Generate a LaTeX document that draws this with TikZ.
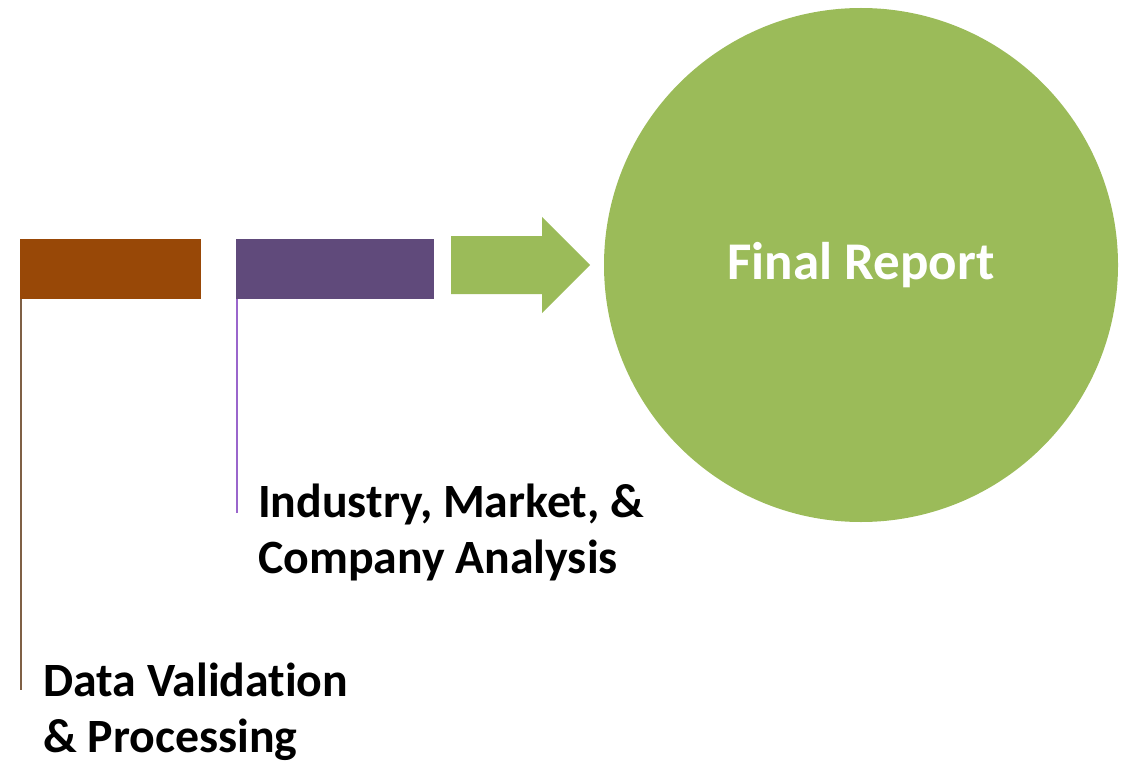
\documentclass[tikz,border=0pt]{standalone}
\usepackage{fontspec}
\setmainfont{Carlito}[Ligatures={NoCommon}]
\definecolor{orangec}{HTML}{984807}
\definecolor{purplec}{HTML}{604A7B}
\definecolor{greenc}{HTML}{9BBB59}
\definecolor{brownline}{HTML}{7F6045}
\definecolor{purpleline}{HTML}{9A66CC}
\begin{document}
\begin{tikzpicture}[x=1pt,y=-1pt,
  bar/.style={draw=none, minimum height=60pt, inner sep=0pt, anchor=north west},
  label/.style={font=\fontsize{47.8}{56}\selectfont\bfseries, align=left, inner sep=0pt, anchor=base west},
  stem/.style={line width=1.5pt}]
\useasboundingbox (0,0) rectangle (1124,762);
\node[bar, fill=orangec, minimum width=181pt] (orange) at (20,239) {};
\node[bar, fill=purplec, minimum width=198pt] (purple) at (236,239) {};
\node[circle, fill=greenc, minimum size=514pt, inner sep=0pt, text=white,
      font=\fontsize{53}{62}\selectfont\bfseries] (report) at (861,265) {Final Report};
\fill[greenc] (451,236) -- (542,236) -- (542,217) -- (590,265) -- (542,313) -- (542,294) -- (451,294) -- cycle;
\coordinate (oend) at (20.75,690);
\coordinate (pend) at (236.75,513);
\draw[stem, brownline] (orange.south west) ++(0.75,0) coordinate (ostart) (ostart) -- (oend);
\draw[stem, purpleline] (purple.south west) ++(0.75,0) coordinate (pstart) (pstart) -- (pend);
\node[label] (ind) at (258,573) {Industry, Market, \&\\Company Analysis};
\node[label] (dat) at (43,752) {Data Validation\\\& Processing};
\end{tikzpicture}
\end{document}
